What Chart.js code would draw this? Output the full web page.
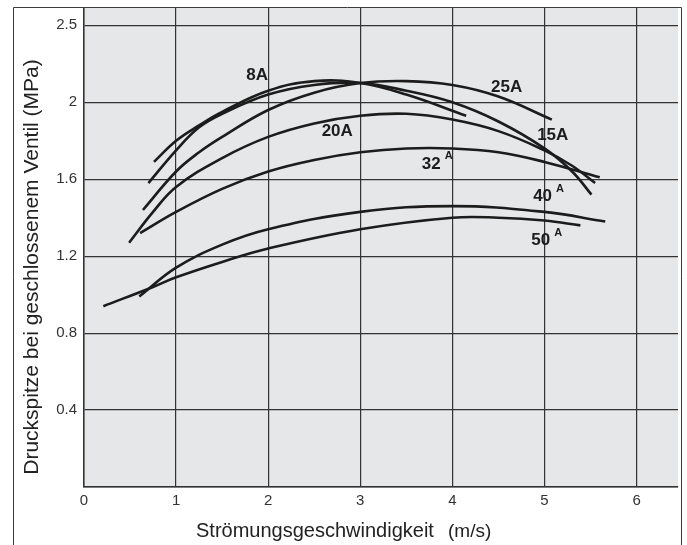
<!DOCTYPE html>
<html>
<head>
<meta charset="utf-8">
<script src="https://cdn.jsdelivr.net/npm/chart.js@4/dist/chart.umd.min.js"></script>
<style>
  html, body { margin: 0; padding: 0; background: #fff; }
  canvas { display: block; }
</style>
</head>
<body>
<canvas id="druckChart" width="687" height="545"></canvas>
<script>
// Ablesewerte: Strömungsgeschwindigkeit (m/s) / Druckspitze (MPa) je Nennweite
const velocity8A = [0.76, 1.0, 1.25, 1.5, 2.0, 2.5, 3.0, 3.5, 4.15];
const pressure8A = [1.69, 1.80, 1.88, 1.95, 2.06, 2.11, 2.10, 2.04, 1.93];

const velocity15A = [0.70, 1.0, 1.25, 1.5, 2.0, 2.5, 3.0, 3.5, 4.0, 4.5, 5.0, 5.3, 5.51];
const pressure15A = [1.58, 1.75, 1.87, 1.94, 2.04, 2.09, 2.10, 2.06, 2.00, 1.90, 1.76, 1.64, 1.52];

const velocity20A = [0.49, 0.75, 1.0, 1.5, 2.0, 2.5, 3.0, 3.5, 4.0, 4.5, 5.0, 5.3, 5.55];
const pressure20A = [1.27, 1.43, 1.56, 1.71, 1.82, 1.89, 1.93, 1.94, 1.91, 1.85, 1.75, 1.67, 1.58];

const velocity25A = [0.64, 1.0, 1.25, 1.5, 2.0, 2.5, 3.0, 3.5, 4.0, 4.5, 5.08];
const pressure25A = [1.44, 1.64, 1.74, 1.82, 1.96, 2.05, 2.10, 2.11, 2.09, 2.03, 1.91];

const velocity32A = [0.61, 1.0, 1.5, 2.0, 2.5, 3.0, 3.5, 4.0, 4.5, 5.0, 5.6];
const pressure32A = [1.32, 1.43, 1.55, 1.64, 1.70, 1.74, 1.76, 1.76, 1.74, 1.69, 1.61];

const velocity40A = [0.60, 1.0, 1.5, 2.0, 3.0, 4.0, 5.0, 5.66];
const pressure40A = [0.99, 1.14, 1.26, 1.34, 1.43, 1.46, 1.43, 1.38];

const velocity50A = [0.21, 0.75, 1.0, 1.5, 2.0, 3.0, 4.0, 4.5, 5.0, 5.39];
const pressure50A = [0.94, 1.04, 1.09, 1.17, 1.24, 1.34, 1.40, 1.40, 1.385, 1.36];

// Achsen
const xTickValues = [0, 1, 2, 3, 4, 5, 6];
const yTickValues = [0, 0.4, 0.8, 1.2, 1.6, 2.0, 2.4];
const yTickLabels = ['', '0.4', '0.8', '1.2', '1.6', '2', '2.5']; // so im Original beschriftet

// Kurvenbeschriftungen (Text, hochgestellter Zusatz, Lage in Achsenwerten)
const curveLabels = [
    { text: '8A', sup: '', x: 1.88, y: 2.14 },
    { text: '25A', sup: '', x: 4.59, y: 2.08 },
    { text: '15A', sup: '', x: 5.09, y: 1.83 },
    { text: '20A', sup: '', x: 2.75, y: 1.85 },
    { text: '32', sup: 'A', x: 3.77, y: 1.68 },
    { text: '40', sup: 'A', x: 4.98, y: 1.51 },
    { text: '50', sup: 'A', x: 4.96, y: 1.28 }
];

const FONT = '"Liberation Sans", Arial, Helvetica, sans-serif';
const INK = '#1c1c1c';

function toPoints(xs, ys) {
    return xs.map((x, i) => ({ x: x, y: ys[i] }));
}

function curve(label, xs, ys) {
    return {
        label: label,
        data: toPoints(xs, ys),
        borderColor: INK,
        borderWidth: 2.6,
        pointRadius: 0,
        fill: false,
        tension: 0.4
    };
}

const decorPlugin = {
    id: 'decor',
    beforeDraw(chart) {
        const { ctx, chartArea: a } = chart;
        ctx.save();
        ctx.fillStyle = '#e6e7e9';
        ctx.fillRect(a.left, a.top, a.right - a.left, a.bottom - a.top);
        ctx.restore();
    },
    afterDraw(chart) {
        const { ctx, scales } = chart;
        ctx.save();

        // Rahmen um die ganze Grafik (unten offen)
        ctx.strokeStyle = '#3a3a3a';
        ctx.lineWidth = 1;
        ctx.beginPath();
        ctx.moveTo(13.5, 545);
        ctx.lineTo(13.5, 7.5);
        ctx.lineTo(681.5, 7.5);
        ctx.lineTo(681.5, 545);
        ctx.stroke();

        // Kurvenbeschriftungen
        ctx.fillStyle = INK;
        curveLabels.forEach((lbl) => {
            const px = scales.x.getPixelForValue(lbl.x);
            const py = scales.y.getPixelForValue(lbl.y);
            ctx.font = 'bold 17px ' + FONT;
            ctx.textAlign = 'center';
            ctx.textBaseline = 'middle';
            ctx.fillText(lbl.text, px, py);
            if (lbl.sup) {
                const w = ctx.measureText(lbl.text).width;
                ctx.font = 'bold 11px ' + FONT;
                ctx.textAlign = 'left';
                ctx.fillText(lbl.sup, px + w / 2 + 4, py - 8);
            }
        });

        // x-Achsentitel
        ctx.fillStyle = '#222';
        ctx.textAlign = 'left';
        ctx.textBaseline = 'alphabetic';
        ctx.font = '20px ' + FONT;
        ctx.fillText('Strömungsgeschwindigkeit', 196, 537);
        ctx.font = '19px ' + FONT;
        ctx.fillText('(m/s)', 448, 537);

        // y-Achsentitel
        ctx.translate(38, 267);
        ctx.rotate(-Math.PI / 2);
        ctx.font = '21px ' + FONT;
        ctx.textAlign = 'center';
        ctx.fillText('Druckspitze bei geschlossenem Ventil (MPa)', 0, 0);

        ctx.restore();
    }
};

const ctx = document.getElementById('druckChart');
new Chart(ctx, {
    type: 'line',
    data: {
        datasets: [
            curve('8A', velocity8A, pressure8A),
            curve('15A', velocity15A, pressure15A),
            curve('20A', velocity20A, pressure20A),
            curve('25A', velocity25A, pressure25A),
            curve('32A', velocity32A, pressure32A),
            curve('40A', velocity40A, pressure40A),
            curve('50A', velocity50A, pressure50A)
        ]
    },
    options: {
        responsive: false,
        animation: false,
        layout: { padding: { left: 0, top: 8, right: 9, bottom: 0 } },
        plugins: {
            legend: { display: false },
            tooltip: { enabled: false }
        },
        scales: {
            x: {
                type: 'linear',
                min: 0,
                max: 6.45,
                afterBuildTicks: (scale) => {
                    scale.ticks = xTickValues.map((v) => ({ value: v }));
                },
                afterFit: (scale) => {
                    scale.height = 58;
                    scale.paddingLeft = 0;
                    scale.paddingRight = 0;
                },
                grid: { color: '#333', lineWidth: 1.2, drawTicks: false },
                border: { color: '#333', width: 1.5 },
                ticks: {
                    padding: 5,
                    color: '#333',
                    font: { family: FONT, size: 15 },
                    maxRotation: 0,
                    callback: (value) => String(value)
                }
            },
            y: {
                type: 'linear',
                min: 0,
                max: 2.49,
                afterBuildTicks: (scale) => {
                    scale.ticks = yTickValues.map((v) => ({ value: v }));
                },
                afterFit: (scale) => {
                    scale.width = 84;
                    scale.paddingTop = 0;
                    scale.paddingBottom = 0;
                },
                grid: { color: '#333', lineWidth: 1.2, drawTicks: false },
                border: { color: '#333', width: 1.5 },
                ticks: {
                    padding: 7,
                    color: '#333',
                    font: { family: FONT, size: 15 },
                    callback: (value, index) => yTickLabels[index]
                }
            }
        }
    },
    plugins: [decorPlugin]
});
</script>
</body>
</html>
